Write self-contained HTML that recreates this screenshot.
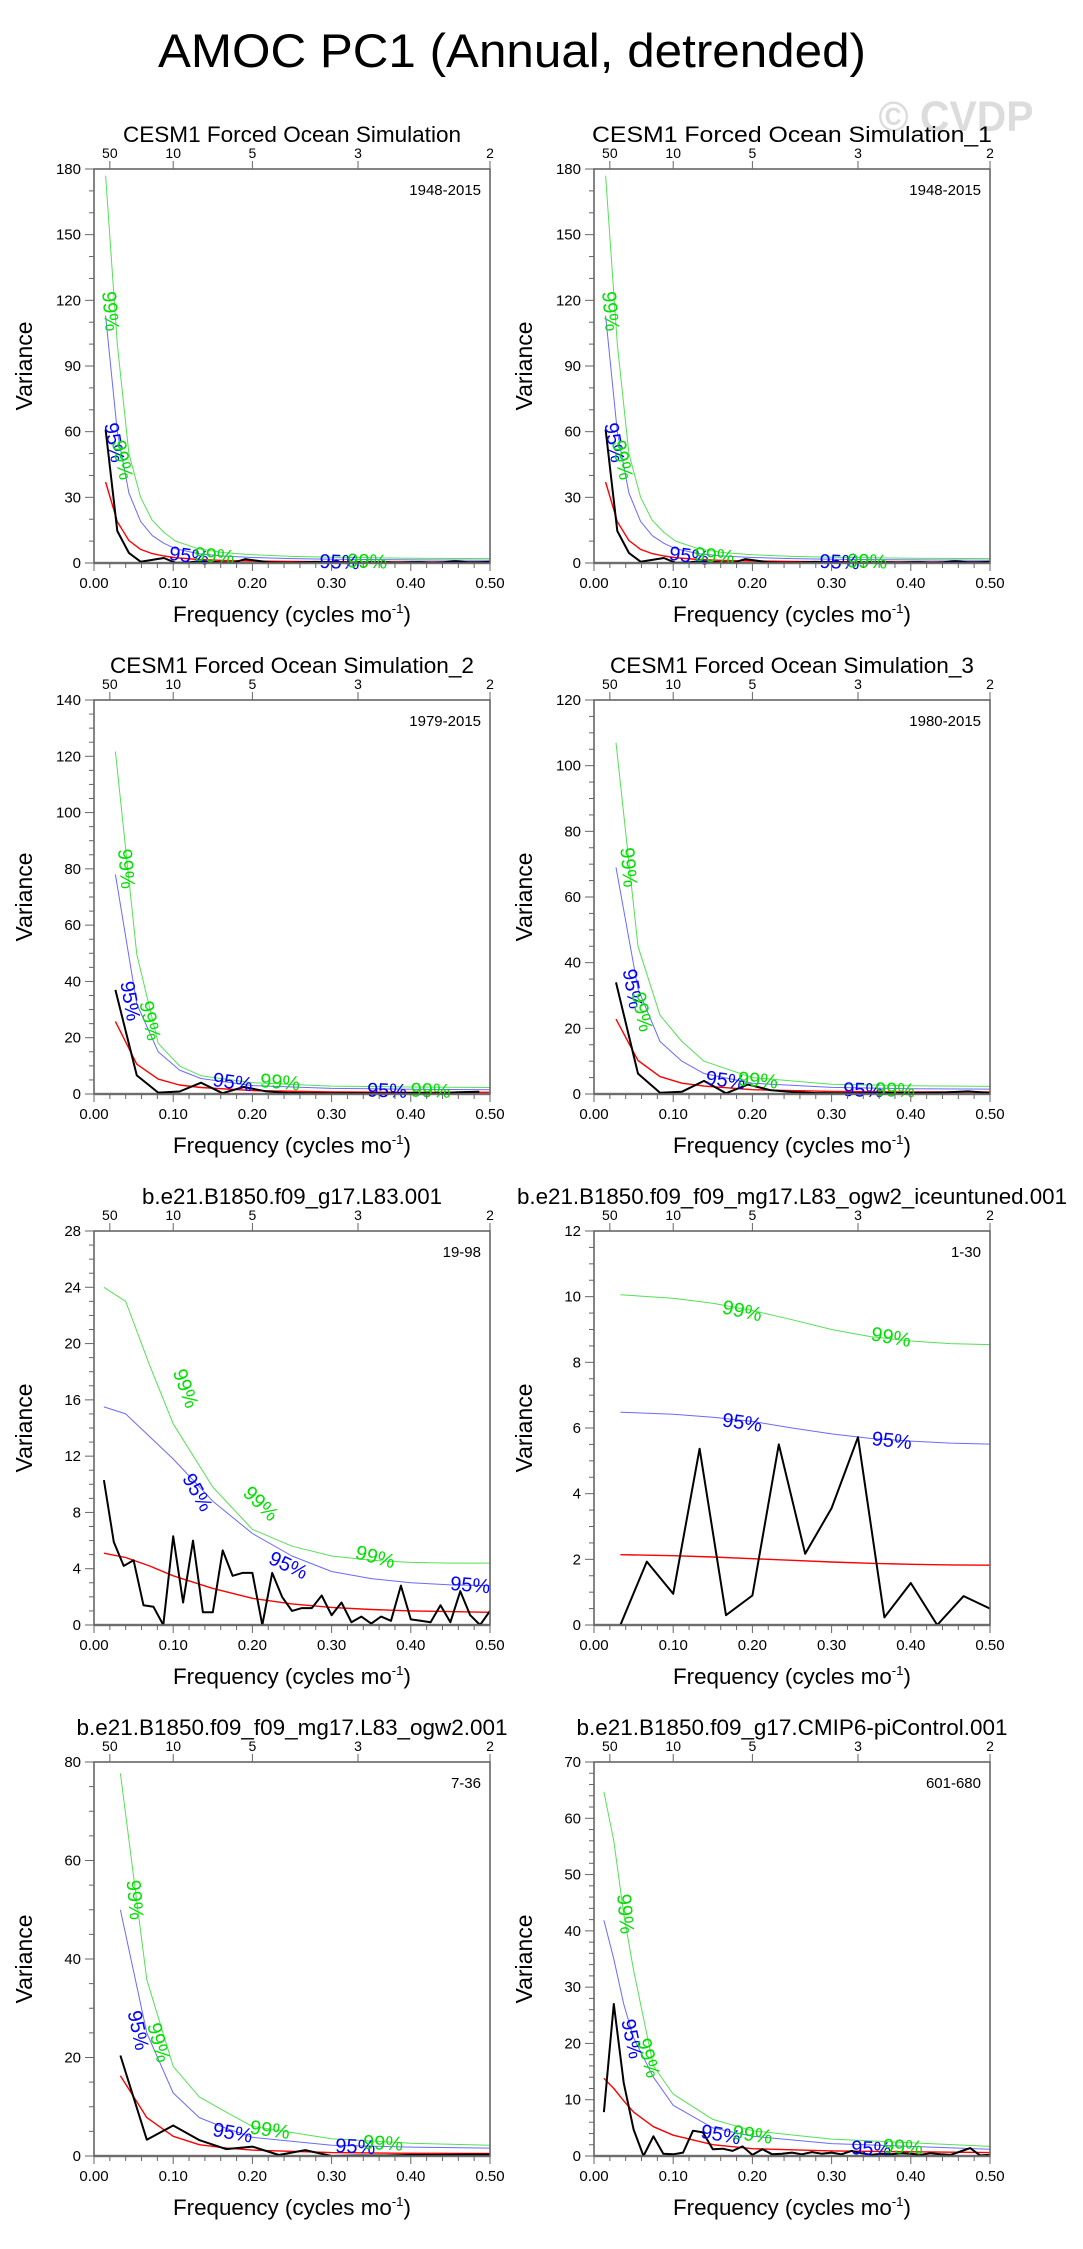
<!DOCTYPE html>
<html><head><meta charset="utf-8"><style>
html,body{margin:0;padding:0;background:#fff}
svg{display:block;font-family:"Liberation Sans",sans-serif}
</style></head><body>
<svg id="chart" width="1083" height="2249" viewBox="0 0 1083 2249" xmlns="http://www.w3.org/2000/svg">
<rect width="1083" height="2249" fill="#fff"/>
<text x="512" y="67" font-size="47" text-anchor="middle" textLength="708" lengthAdjust="spacingAndGlyphs">AMOC PC1 (Annual, detrended)</text>
<text x="956" y="131" font-size="43" font-weight="bold" fill="#dcdcdc" text-anchor="middle" textLength="155" lengthAdjust="spacingAndGlyphs">© CVDP</text>
</svg>
<script>
// ---- data ----
const p1Black=[61,14.6,4.6,0.6,1.4,2.3,0.1,0.2,0.8,0.5,0.3,0.2,1.8,1.0,0.3,0.2,0.2,0.3,0.5,0.4,0.3,0.2,0.4,0.5,0.3,0.2,0.3,0.4,0.2,0.3,0.8,0.4,0.3,0.5];
const p1RefF=[0.0147,0.0294,0.0441,0.0588,0.0735,0.0882,0.103,0.132,0.162,0.2,0.25,0.3,0.4,0.5];
const p1Red=[37,18.9,10.3,6.2,4.3,3.2,2.4,1.6,1.2,0.9,0.7,0.6,0.5,0.45];
const p1Blue=[113,60,32,19,12.5,9,6.5,4.2,3.2,2.5,2.0,1.7,1.4,1.3];
const p1Green=[177,100,50,30,19.5,14,10,6.5,4.8,3.8,3.0,2.6,2.2,2.0];

const p3Black=[37,6.6,0.5,0.9,4.0,0.3,2.5,1.0,0.4,0.3,0.2,0.3,0.2,0.3,0.4,0.2,0.6,0.8];
const p3RefF=[0.027,0.054,0.081,0.108,0.135,0.2,0.3,0.4,0.5];
const p3Red=[25.8,10.6,5.3,3.2,2.3,1.2,0.7,0.6,0.6];
const p3Blue=[78,32,15,8.5,5.5,3,2,1.7,1.5];
const p3Green=[121.7,49.6,18,10,6.5,4,2.8,2.5,2.3];

const p4Black=[34,6.2,0.4,0.7,4.0,0.2,2.9,1.2,0.6,0.3,0.2,0.2,0.3,0.3,0.4,0.5,0.8,0.3];
const p4RefF=[0.0278,0.0556,0.0833,0.111,0.139,0.2,0.3,0.4,0.5];
const p4Red=[22.8,10.2,5.3,3.3,2.4,1.3,0.8,0.6,0.6];
const p4Blue=[69,32,16,10,6.2,3.3,2.0,1.6,1.5];
const p4Green=[107,45,24,16,10,5,3,2.5,2.3];

const p5Black=[10.3,5.9,4.2,4.6,1.4,1.3,0,6.3,1.6,6.0,0.9,0.9,5.3,3.5,3.7,3.7,0,3.7,2.0,1.0,1.2,1.2,2.1,0.7,1.6,0.2,0.6,0.1,0.6,0.3,2.8,0.4,0.3,0.2,1.4,0.2,2.4,0.7,0,1.0];
const p5RefF=[0.0125,0.04,0.07,0.1,0.15,0.2,0.25,0.3,0.35,0.4,0.45,0.5];
const p5Red=[5.1,4.8,4.2,3.5,2.6,1.9,1.5,1.25,1.1,1.0,0.95,0.9];
const p5Blue=[15.5,15,13.4,11.8,8.8,6.5,4.9,3.8,3.3,3.0,2.85,2.8];
const p5Green=[24,23,18.5,14.3,9.8,6.8,5.6,4.9,4.6,4.45,4.4,4.4];

const p6Black=[0,1.93,0.95,5.37,0.3,0.9,5.5,2.17,3.56,5.72,0.23,1.28,0,0.88,0.5];
const p6RefF=[0.0333,0.1,0.15,0.2,0.25,0.3,0.35,0.4,0.45,0.5];
const p6Red=[2.14,2.11,2.07,2.02,1.97,1.92,1.88,1.85,1.83,1.82];
const p6Blue=[6.48,6.42,6.33,6.2,6.0,5.82,5.68,5.6,5.54,5.51];
const p6Green=[10.06,9.95,9.8,9.58,9.3,9.0,8.78,8.65,8.57,8.54];

const p7Black=[20.4,3.3,6.2,3.2,1.4,1.9,0.2,1.2,0,0.1,0.1,0.2,0.2,0.3,0.3];
const p7RefF=[0.0333,0.0667,0.1,0.133,0.167,0.2,0.3,0.4,0.5];
const p7Red=[16.3,7.8,4.0,2.3,1.6,1.2,0.7,0.55,0.5];
const p7Blue=[50,25,12.8,7.8,5.6,3.8,2.2,1.8,1.6];
const p7Green=[77.7,35.8,18.2,12,8.9,6,3.5,2.6,2.2];

const p8Black=[7.8,27,13,4.7,0,3.5,0.4,0.3,0.6,4.5,4.2,1.2,1.3,0.9,1.7,0.2,1.2,0.3,0.4,0.6,0.3,0.7,0.4,0.6,0.3,0.9,0.5,0.2,0.4,0.3,0.5,0.4,0.2,0.5,0.3,0.2,0.8,1.4,0.1,0.2];
const p8RefF=[0.0125,0.025,0.0375,0.05,0.075,0.1,0.15,0.2,0.3,0.5];
const p8Red=[13.8,12,9.8,7.8,5.2,3.7,2.0,1.3,0.9,0.6];
const p8Blue=[41.9,35,27,21,14,9,5.0,3.5,2.2,1.2];
const p8Green=[64.7,56,43,33,16,11,6.5,4.5,3,1.7];

const periodTicks=[50,10,5,3,2];
const freqTicks=[0,0.1,0.2,0.3,0.4,0.5];

const panels=[
 {name:'cesm1-forced',title:'CESM1 Forced Ocean Simulation',tl:338,yrs:'1948-2015',x0:94,y0:169,ymax:180,maj:30,min:10,df:1/68,black:p1Black,rf:p1RefF,red:p1Red,blue:p1Blue,green:p1Green,
  labels:[['99%','g',0.02,115,85],['95%','b',0.025,55,80],['99%','g',0.035,47,78],['95%','b',0.12,3,8],['99%','g',0.152,3,5],['95%','b',0.31,0.2,2],['99%','g',0.345,0.5,2]]},
 {name:'cesm1-forced-1',title:'CESM1 Forced Ocean Simulation_1',tl:400,yrs:'1948-2015',x0:594,y0:169,ymax:180,maj:30,min:10,df:1/68,black:p1Black,rf:p1RefF,red:p1Red,blue:p1Blue,green:p1Green,
  labels:[['99%','g',0.02,115,85],['95%','b',0.025,55,80],['99%','g',0.035,47,78],['95%','b',0.12,3,8],['99%','g',0.152,3,5],['95%','b',0.31,0.2,2],['99%','g',0.345,0.5,2]]},
 {name:'cesm1-forced-2',title:'CESM1 Forced Ocean Simulation_2',tl:364,yrs:'1979-2015',x0:94,y0:700,ymax:140,maj:20,min:5,df:1/37,black:p3Black,rf:p3RefF,red:p3Red,blue:p3Blue,green:p3Green,
  labels:[['99%','g',0.04,80,85],['95%','b',0.045,33,80],['99%','g',0.07,26,78],['95%','b',0.175,4,8],['99%','g',0.235,4,5],['95%','b',0.37,1,2],['99%','g',0.425,1,2]]},
 {name:'cesm1-forced-3',title:'CESM1 Forced Ocean Simulation_3',tl:364,yrs:'1980-2015',x0:594,y0:700,ymax:120,maj:20,min:5,df:1/36,black:p4Black,rf:p4RefF,red:p4Red,blue:p4Blue,green:p4Green,
  labels:[['99%','g',0.043,69,85],['95%','b',0.048,32,80],['99%','g',0.06,25,78],['95%','b',0.166,4,8],['99%','g',0.207,4,5],['95%','b',0.34,1,2],['99%','g',0.38,1,2]]},
 {name:'b1850-g17-l83',title:'b.e21.B1850.f09_g17.L83.001',tl:300,yrs:'19-98',x0:94,y0:1231,ymax:28,maj:4,min:1,df:1/80,black:p5Black,rf:p5RefF,red:p5Red,blue:p5Blue,green:p5Green,
  labels:[['99%','g',0.115,16.8,70],['99%','g',0.21,8.6,45],['99%','g',0.355,4.8,15],['95%','b',0.13,9.4,60],['95%','b',0.245,4.2,25],['95%','b',0.475,2.8,5]]},
 {name:'b1850-ogw2-iceuntuned',title:'b.e21.B1850.f09_f09_mg17.L83_ogw2_iceuntuned.001',tl:550,yrs:'1-30',x0:594,y0:1231,ymax:12,maj:2,min:0.5,df:1/30,black:p6Black,rf:p6RefF,red:p6Red,blue:p6Blue,green:p6Green,
  labels:[['99%','g',0.187,9.55,12],['99%','g',0.375,8.75,10],['95%','b',0.187,6.15,8],['95%','b',0.376,5.6,6]]},
 {name:'b1850-ogw2',title:'b.e21.B1850.f09_f09_mg17.L83_ogw2.001',tl:431,yrs:'7-36',x0:94,y0:1762,ymax:80,maj:20,min:5,df:1/30,black:p7Black,rf:p7RefF,red:p7Red,blue:p7Blue,green:p7Green,
  labels:[['99%','g',0.051,52,85],['95%','b',0.055,25.5,78],['99%','g',0.081,23,75],['95%','b',0.175,4.6,10],['99%','g',0.222,5.2,8],['95%','b',0.33,1.8,3],['99%','g',0.365,2.5,3]]},
 {name:'b1850-picontrol',title:'b.e21.B1850.f09_g17.CMIP6-piControl.001',tl:431,yrs:'601-680',x0:594,y0:1762,ymax:70,maj:10,min:2,df:1/80,black:p8Black,rf:p8RefF,red:p8Red,blue:p8Blue,green:p8Green,
  labels:[['99%','g',0.039,43,85],['95%','b',0.047,20.8,78],['99%','g',0.068,17.4,75],['95%','b',0.16,3.7,10],['99%','g',0.2,3.7,8],['95%','b',0.35,1.2,3],['99%','g',0.39,1.5,3]]}
];

const NS='http://www.w3.org/2000/svg';
const svg=document.getElementById('chart');
function mk(tag,attrs,parent,txt){const e=document.createElementNS(NS,tag);for(const k in attrs)e.setAttribute(k,attrs[k]);if(txt!==undefined)e.textContent=txt;(parent||svg).appendChild(e);return e;}
const W=396,H=394;
panels.forEach((p,pi)=>{
 const g=mk('g',{});
 
 
 const xs=f=>p.x0+f/0.5*W;
 const ys=v=>p.y0+H-v/p.ymax*H;
 const cx=p.x0+W/2;
 const t=mk('text',{x:cx,y:p.y0-27,'font-size':22,'text-anchor':'middle',textLength:p.tl,lengthAdjust:'spacingAndGlyphs'},g,p.title);
 
 
 const yr=mk('text',{x:p.x0+W-9,y:p.y0+26,'font-size':15,'text-anchor':'end'},g,p.yrs);
 
 
 const cid='clip'+pi;
 const cp=mk('clipPath',{id:cid},g);mk('rect',{x:p.x0,y:p.y0,width:W,height:H},cp);
 mk('line',{x1:p.x0,x2:p.x0+W,y1:ys(0),y2:ys(0),stroke:'#8a8a8a','stroke-width':2.5},g);
 const series=mk('g',{'clip-path':'url(#'+cid+')'},g);
 function line(fs,vs,col,w,name){
  const d=vs.map((v,i)=>(i?'L':'M')+xs(fs[i]).toFixed(1)+','+ys(v).toFixed(1)).join('');
  const e=mk('path',{d:d,fill:'none',stroke:col,'stroke-width':w,'stroke-linejoin':'round'},series);
  
  
 }
 line(p.rf,p.green,'#55e055',1,'ci99-line');
 line(p.rf,p.blue,'#6a6aff',1,'ci95-line');
 line(p.rf,p.red,'#ff0000',1.4,'red-noise-line');
 line(p.black.map((v,i)=>(i+1)*p.df),p.black,'#000',2,'spectrum-line');
 p.labels.forEach(l=>{
  const lx=xs(l[2]),ly=ys(l[3]);
  const e=mk('text',{x:lx,y:ly,'font-size':20,'text-anchor':'middle','dominant-baseline':'central',fill:l[1]==='g'?'#00e000':'#0000ff',transform:'rotate('+l[4]+' '+lx+' '+ly+')'},g,l[0]);
  
  
 });
 mk('rect',{x:p.x0,y:p.y0,width:W,height:H,fill:'none',stroke:'#666','stroke-width':1.6},g);
 for(let v=0;v<=p.ymax+1e-9;v+=p.min){
  const isMaj=Math.abs(v/p.maj-Math.round(v/p.maj))<1e-6;
  mk('line',{x1:p.x0,x2:p.x0-(isMaj?9:5),y1:ys(v),y2:ys(v),stroke:'#666','stroke-width':1},g);
  if(isMaj){const e=mk('text',{x:p.x0-13,y:ys(v)+5,'font-size':15,'text-anchor':'end'},g,String(Math.round(v)));
   
   }
 }
 for(let k=0;k<=25;k++){
  const f=k*0.02,isMaj=k%5===0;
  mk('line',{x1:xs(f),x2:xs(f),y1:p.y0+H,y2:p.y0+H+(isMaj?8:5),stroke:'#666','stroke-width':1},g);
 }
 freqTicks.forEach(f=>{
  const e=mk('text',{x:xs(f),y:p.y0+H+25,'font-size':15,'text-anchor':'middle'},g,f.toFixed(2));
  
  
 });
 periodTicks.forEach(per=>{
  const x=xs(1/per);
  mk('line',{x1:x,x2:x,y1:p.y0,y2:p.y0-8,stroke:'#666','stroke-width':1},g);
  const e=mk('text',{x:x,y:p.y0-11,'font-size':14,'text-anchor':'middle'},g,String(per));
  
  
 });
 const xt=mk('text',{x:cx,y:p.y0+H+59,'font-size':22,'text-anchor':'middle',textLength:238,lengthAdjust:'spacingAndGlyphs'},g);
 
 
 xt.appendChild(document.createTextNode('Frequency (cycles mo'));
 mk('tspan',{'font-size':13,dy:-9},xt,'-1');
 mk('tspan',{'font-size':22,dy:9},xt,')');
 const yt=mk('text',{x:p.x0-70,y:p.y0+H/2,'font-size':23,'text-anchor':'middle','dominant-baseline':'central',transform:'rotate(-90 '+(p.x0-70)+' '+(p.y0+H/2)+')'},g,'Variance');
 
 
});
</script>
</body></html>
